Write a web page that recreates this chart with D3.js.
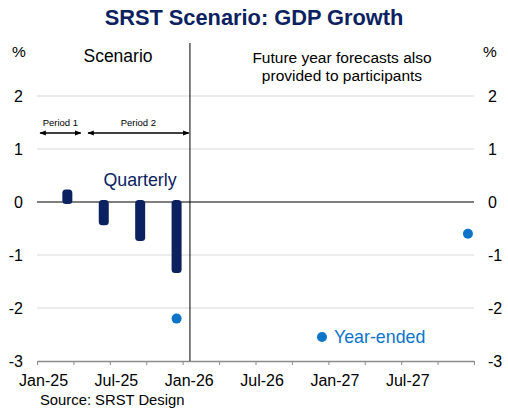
<!doctype html>
<html lang="en">
<head>
  <meta charset="utf-8">
  <title>SRST Scenario: GDP Growth</title>
  <style>
    body { margin: 0; background: #fff; }
    svg { font-family: "Liberation Sans", Arial, sans-serif; display: block; }
  </style>
</head>
<body>
<svg id="chart" width="508" height="416" viewBox="0 0 508 416"></svg>

<script src="https://d3js.org/d3.v7.min.js"></script>
<script type="text/javascript">
// quarterly growth, %
const quarterDates = ['2025-03', '2025-06', '2025-09', '2025-12'];
const quarterValues = [0.2, -0.4, -0.7, -1.3];

// year-ended growth, %
const yearEndedDates = ['2025-12', '2027-12'];
const yearEndedValues = [-2.2, -0.6];

const xLabels = ['Jan-25', 'Jul-25', 'Jan-26', 'Jul-26', 'Jan-27', 'Jul-27'];
const yTicks = [2, 1, 0, -1, -2, -3];

// month index (0 = Jan-25), centred in the month
const monthIdx = s => {
  const [yr, m] = s.split('-').map(Number);
  return (yr - 2025) * 12 + (m - 1) + 0.5;
};

const chart = d3.select('#chart');
const plotL = 37, plotR = 474, plotT = 43, plotB = 361;

const x = d3.scaleLinear().domain([0, 36]).range([plotL, plotR]);
const y = d3.scaleLinear().domain([-3, 3]).range([plotB, plotT]);

const navy = '#0c2160';
const blue = '#0a74c8';

// title
chart.append('text')
  .attr('x', 254).attr('y', 25)
  .attr('text-anchor', 'middle')
  .attr('font-size', 21.8).attr('font-weight', 'bold')
  .attr('fill', navy)
  .text('SRST Scenario: GDP Growth');

// gridlines
chart.append('g').selectAll('line')
  .data(yTicks.filter(d => d !== 0 && d !== -3))
  .join('line')
  .attr('x1', plotL).attr('x2', plotR)
  .attr('y1', d => y(d)).attr('y2', d => y(d))
  .attr('stroke', '#e6e6e6').attr('stroke-width', 1.5);

// bottom axis: quarter ticks
const axisG = chart.append('g')
  .attr('transform', `translate(0 ${plotB})`)
  .call(d3.axisBottom(x).tickValues(d3.range(0, 37, 3)).tickFormat('').tickSize(4).tickSizeOuter(0));
axisG.select('.domain').attr('stroke', '#8c8c8c').attr('stroke-width', 1.5);
axisG.selectAll('.tick line').attr('stroke', '#8c8c8c');

// month labels every six months
const labelG = chart.append('g')
  .attr('transform', `translate(0 ${plotB})`)
  .call(d3.axisBottom(x).tickValues(d3.range(0, 36, 6).map(d => d + 0.5))
    .tickFormat((d, i) => xLabels[i]).tickSize(0).tickPadding(14));
labelG.select('.domain').remove();
labelG.selectAll('text').attr('font-size', 16).attr('fill', '#000')
  .attr('font-family', '"Liberation Sans", Arial, sans-serif');

// y labels, both sides
chart.append('g').selectAll('text')
  .data(yTicks).join('text')
  .attr('x', 23).attr('y', d => y(d)).attr('dy', '0.35em')
  .attr('text-anchor', 'end').attr('font-size', 16)
  .text(d => d);
chart.append('g').selectAll('text')
  .data(yTicks).join('text')
  .attr('x', 488).attr('y', d => y(d)).attr('dy', '0.35em')
  .attr('text-anchor', 'start').attr('font-size', 16)
  .text(d => d);
chart.append('text').attr('x', 19).attr('y', 57).attr('text-anchor', 'middle')
  .attr('font-size', 15.5).text('%');
chart.append('text').attr('x', 490).attr('y', 57).attr('text-anchor', 'middle')
  .attr('font-size', 15.5).text('%');

// zero line
chart.append('line')
  .attr('x1', plotL).attr('x2', plotR)
  .attr('y1', y(0)).attr('y2', y(0))
  .attr('stroke', '#000').attr('stroke-width', 1.2);

// scenario divider
chart.append('line')
  .attr('x1', x(12.6)).attr('x2', x(12.6))
  .attr('y1', plotT).attr('y2', plotB)
  .attr('stroke', '#000').attr('stroke-width', 1);

// quarterly bars
const barW = 10, cap = 2;
chart.append('g').selectAll('rect')
  .data(quarterDates.map((d, i) => ({ m: monthIdx(d), v: quarterValues[i] })))
  .join('rect')
  .attr('x', d => x(d.m) - barW / 2)
  .attr('width', barW)
  .attr('y', d => Math.min(y(d.v), y(0)) - cap)
  .attr('height', d => Math.abs(y(d.v) - y(0)) + 2 * cap)
  .attr('rx', 3.5)
  .attr('fill', navy);

// year-ended dots
chart.append('g').selectAll('circle')
  .data(yearEndedDates.map((d, i) => ({ m: monthIdx(d), v: yearEndedValues[i] })))
  .join('circle')
  .attr('cx', d => x(d.m))
  .attr('cy', d => y(d.v))
  .attr('r', 5)
  .attr('fill', blue);

// annotations
chart.append('text').attr('x', 118).attr('y', 62).attr('text-anchor', 'middle')
  .attr('font-size', 17.5).text('Scenario');
chart.append('text').attr('x', 342).attr('y', 63).attr('text-anchor', 'middle')
  .attr('font-size', 15.5).text('Future year forecasts also');
chart.append('text').attr('x', 342).attr('y', 81).attr('text-anchor', 'middle')
  .attr('font-size', 15.5).text('provided to participants');
chart.append('text').attr('x', 140).attr('y', 186).attr('text-anchor', 'middle')
  .attr('font-size', 17.8).attr('fill', navy).text('Quarterly');

// legend for year-ended
chart.append('circle').attr('cx', 322).attr('cy', 337).attr('r', 5).attr('fill', blue);
chart.append('text').attr('x', 334).attr('y', 343)
  .attr('font-size', 17.8).attr('fill', blue).text('Year-ended');

// period arrows
const defs = chart.append('defs');
['start', 'end'].forEach(k => {
  defs.append('marker')
    .attr('id', 'arr-' + k)
    .attr('viewBox', '0 0 10 10')
    .attr('refX', 9).attr('refY', 5)
    .attr('markerWidth', 5).attr('markerHeight', 5)
    .attr('orient', 'auto-start-reverse')
    .append('path').attr('d', 'M0,1 L10,5 L0,9 Z').attr('fill', '#000');
});
const periods = [
  { label: 'Period 1', from: 0.25, to: 3.6 },
  { label: 'Period 2', from: 4.2, to: 12.5 }
];
const pg = chart.append('g');
periods.forEach(p => {
  pg.append('line')
    .attr('x1', x(p.from)).attr('x2', x(p.to))
    .attr('y1', 133).attr('y2', 133)
    .attr('stroke', '#000').attr('stroke-width', 1.3)
    .attr('marker-start', 'url(#arr-start)')
    .attr('marker-end', 'url(#arr-end)');
  pg.append('text')
    .attr('x', (x(p.from) + x(p.to)) / 2).attr('y', 126)
    .attr('text-anchor', 'middle').attr('font-size', 9.5)
    .text(p.label);
});

// source
chart.append('text').attr('x', 40).attr('y', 405)
  .attr('font-size', 14.8).text('Source: SRST Design');
</script>
</body>
</html>
